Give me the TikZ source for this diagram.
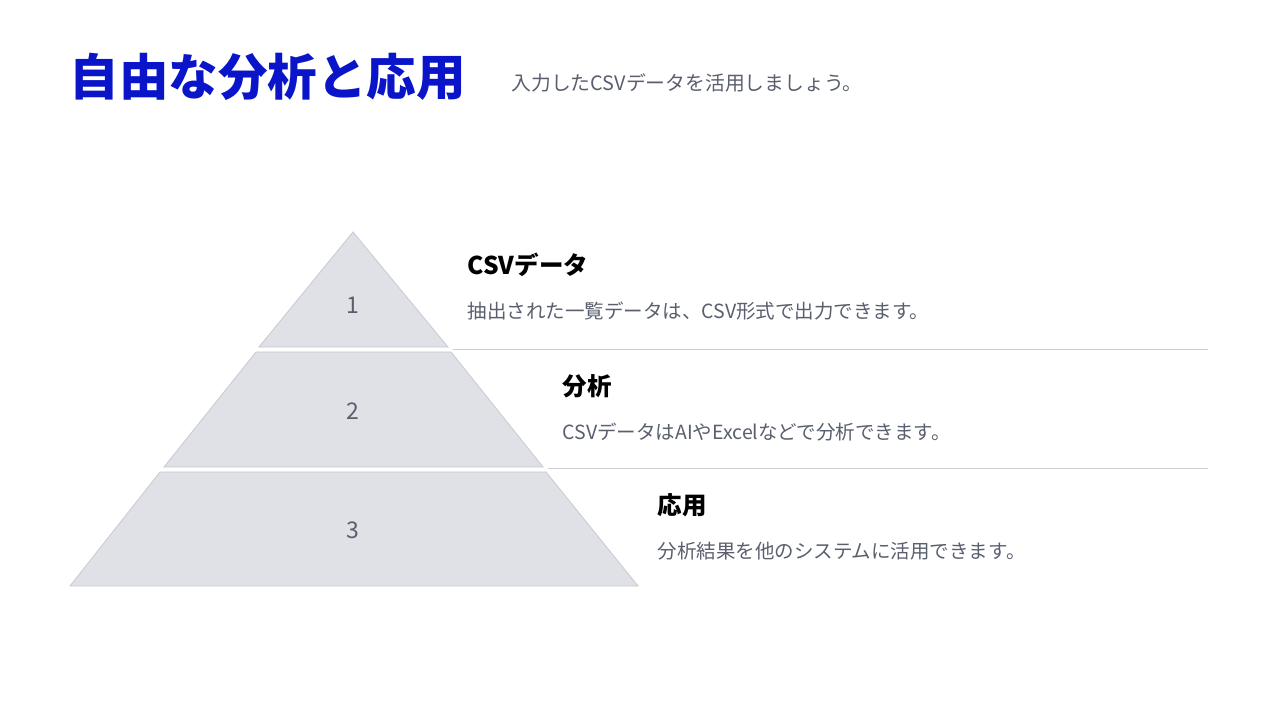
\documentclass[tikz,border=0pt]{standalone}
\usepackage{fontspec}
\setmainfont{Noto Sans CJK JP}
\definecolor{tblue}{RGB}{10,20,200}
\definecolor{tgray}{RGB}{90,95,110}
\definecolor{pfill}{RGB}{224,225,231}
\definecolor{pline}{RGB}{200,201,210}
\definecolor{sep}{RGB}{205,206,212}
\begin{document}
\begin{tikzpicture}[x=1pt,y=-1pt,
  tier/.style={fill=pfill,draw=pline,line width=0.8pt},
  num/.style={text=tgray,font=\fontsize{23}{25}\selectfont},
  head/.style={anchor=west,font=\fontsize{24.5}{27}\selectfont\bfseries},
  desc/.style={anchor=west,text=tgray,font=\fontsize{19.5}{22}\selectfont},
  sepline/.style={draw=sep,line width=0.8pt}]
\useasboundingbox[fill=white] (0,0) rectangle (1267,718);
\draw[tier] (353,232) -- (448,347) -- (259,347) -- cycle;
\draw[tier] (256,352) -- (451,352) -- (543,467) -- (164,467) -- cycle;
\draw[tier] (160,472) -- (546,472) -- (638,586) -- (70,586) -- cycle;
\node[num] (n1) at (353,305) {1};
\node[num] (n2) at (353,411) {2};
\node[num] (n3) at (353,530) {3};
\coordinate (s1a) at (453,349); \coordinate (s1b) at (1208,349);
\coordinate (s2a) at (548,468); \coordinate (s2b) at (1208,468);
\draw[sepline] (s1a) -- (s1b);
\draw[sepline] (s2a) -- (s2b);
\node[anchor=west,text=tblue,font=\fontsize{49.5}{54}\selectfont\bfseries] (title) at (66,77) {自由な分析と応用};
\node[anchor=west,text=tgray,font=\fontsize{19.8}{22}\selectfont] (sub) at (508,83) {入力したCSVデータを活用しましょう。};
\node[head] (h1) at (464,265) {CSVデータ};
\node[desc] (d1) at (464,311) {抽出された一覧データは、CSV形式で出力できます。};
\node[head] (h2) at (559,386) {分析};
\node[desc] (d2) at (559,432) {CSVデータはAIやExcelなどで分析できます。};
\node[head] (h3) at (654,505) {応用};
\node[desc] (d3) at (654,551) {分析結果を他のシステムに活用できます。};
\end{tikzpicture}
\end{document}
